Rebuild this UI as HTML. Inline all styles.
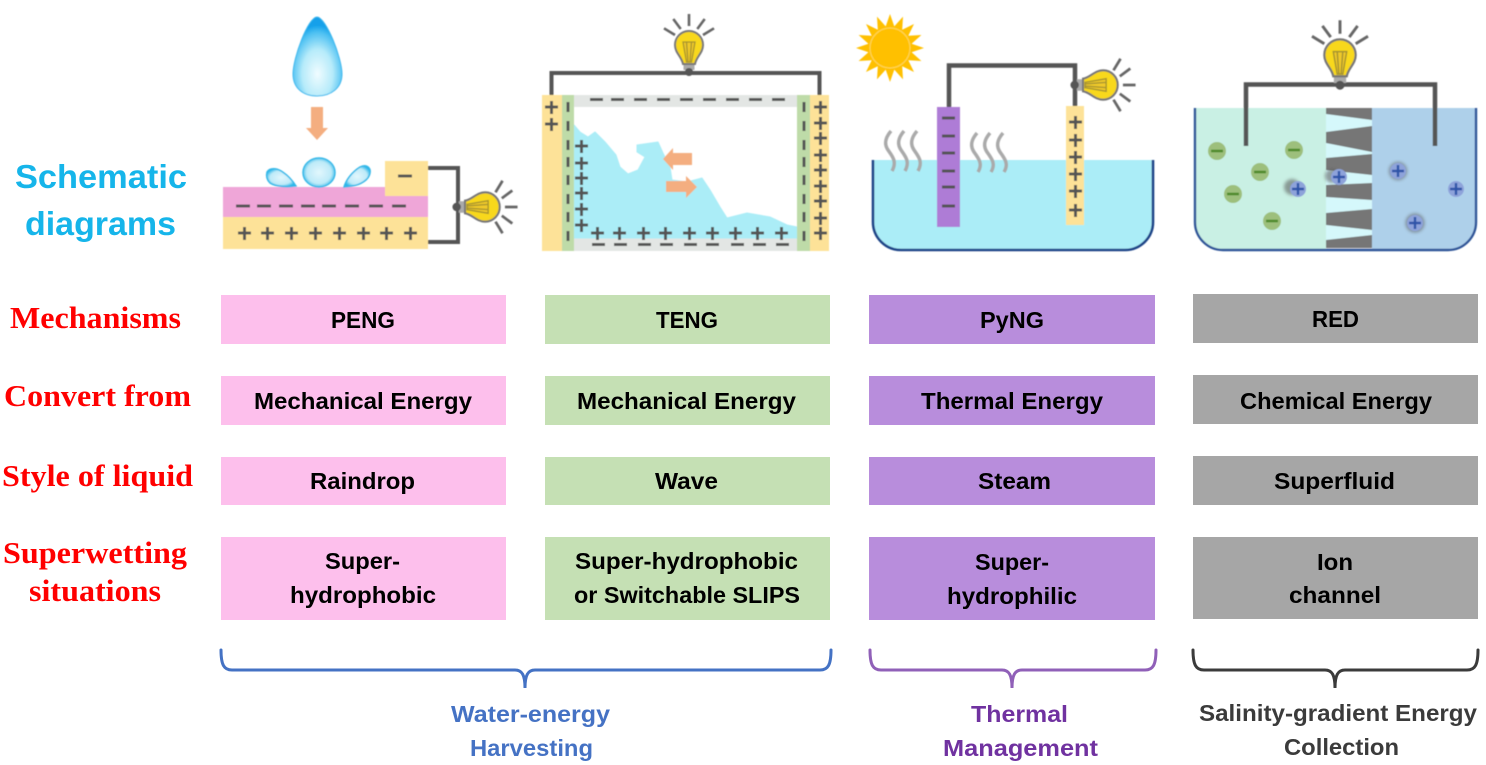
<!DOCTYPE html>
<html><head><meta charset="utf-8"><style>html,body{margin:0;padding:0;background:#fff}svg{display:block}
.b{font-family:"Liberation Sans",sans-serif;font-weight:700;font-size:23px;fill:#000;text-anchor:start}
.r{font-family:"Liberation Serif",serif;font-weight:700;font-size:31px;fill:#f00}
.l{font-family:"Liberation Sans",sans-serif;font-weight:700;font-size:23px}
.d{fill:none;stroke:#555;stroke-width:3}
</style></head><body>
<svg xmlns="http://www.w3.org/2000/svg" width="1486" height="765" viewBox="0 0 1486 765">
<defs>
<radialGradient id="dg" cx=".5" cy=".72" r=".62"><stop offset="0" stop-color="#f0fcff"/><stop offset=".5" stop-color="#b6ebfa"/><stop offset=".85" stop-color="#4cc0f2"/><stop offset="1" stop-color="#12a0ea"/></radialGradient>
<radialGradient id="dg2" cx=".5" cy=".5" r=".55"><stop offset="0" stop-color="#e2f7fd"/><stop offset=".7" stop-color="#bdeaf8"/><stop offset="1" stop-color="#2cb7ea"/></radialGradient>
<filter id="s" x="-5%" y="-5%" width="110%" height="110%"><feGaussianBlur stdDeviation=".45"/></filter>
<filter id="t" x="-2%" y="-5%" width="104%" height="110%"><feGaussianBlur stdDeviation=".3"/></filter>
<filter id="bl" x="-50%" y="-50%" width="200%" height="200%"><feGaussianBlur stdDeviation="1.6"/></filter>
<g id="bulb">
<path d="M0,-19V-31M-8.300,-16-15.700,-26M8.300,-16 15.700,-26M-14,-10-25,-16.700M14,-10 25,-16.700" fill="none" stroke="#666" stroke-width="2.600"/>
<rect x="-5.500" y="18" width="11" height="7" fill="#aaa"/>
<path d="M-6,19C-7,12-14,8-14,0A14,14 0 1 1 14,0C14,8 7,12 6,19Z" fill="#f8d81a" stroke="#777" stroke-width="2"/>
<path d="M-6,-3H6L2.500,17H-2.500ZM-2.500,-3-1,17M2.500,-3 1,17" fill="#efc92a" stroke="#a5932f" stroke-width="1.300"/>
<circle cy="27" r="4" fill="#555"/>
</g>
</defs>

<g filter="url(#s)">
<!-- Panel 1 -->
<path d="M317,17C326,17 342,58 342,74C342,88 331,96 317,96C303,96 293,88 293,74C293,58 308,17 317,17Z" fill="url(#dg)" stroke="#3fb8ee" stroke-width="1"/>
<path d="M311,107H323V128H328L317,140 306,128H311Z" fill="#f4ae80"/>
<rect x="223" y="187" width="205" height="31" fill="#efa6d8"/>
<rect x="223" y="217" width="205" height="32" fill="#fde298"/>
<rect x="385" y="161" width="43" height="35" fill="#fde298"/>
<ellipse cx="319" cy="172.500" rx="16" ry="14.500" fill="url(#dg2)" stroke="#35b8e8" stroke-width="1.500"/>
<path d="M267,172C270,167 278,168 284,173C290,177 294,183 296,186C288,187 276,187 270,183C267,180 266,176 267,172Z" fill="url(#dg2)" stroke="#35b8e8" stroke-width="1.500"/>
<path d="M344,187C346,180 352,172 360,167C366,164 371,167 370,173C369,180 360,185 352,186Z" fill="url(#dg2)" stroke="#35b8e8" stroke-width="1.500"/>
<path d="M428,168H458V242H428" fill="none" stroke="#555" stroke-width="4"/>
<use href="#bulb" transform="translate(485,207) rotate(90) scale(1.05)"/>
<path class="d" d="M398,176h14M236,206h14M257,206h14M279,206h14M301,206h14M322,206h14M345,206h14M369,206h14M392,206h14M238,233h13M244.500,227v13M261,233h13M267.500,227v13M285,233h13M291.500,227v13M309,233h13M315.500,227v13M333,233h13M339.500,227v13M357,233h13M363.500,227v13M380,233h13M386.500,227v13M404,233h13M410.500,227v13"/>

<!-- Panel 2 -->
<path d="M551.500,95V73H819.500V95" fill="none" stroke="#555" stroke-width="4"/>
<use href="#bulb" transform="translate(689,45)"/>
<rect x="542" y="95" width="20" height="156" fill="#fde298"/>
<rect x="810" y="95" width="19" height="156" fill="#fde298"/>
<rect x="574" y="95" width="223" height="12" fill="#e3e6e4"/>
<rect x="574" y="238" width="223" height="13" fill="#e3e6e4"/>
<path d="M574,125 580,132 588,137 595,132 605,142 616,155 620,167 628,174 638,170 645,157 637,152 637,145 658,142 663,153 670,167 672,180 687,182 702,178 710,190 720,207 727,218 747,213 770,217 787,225 797,227 797,238 574,238Z" fill="#abedf7" stroke="#abedf7" stroke-linejoin="round"/>
<rect x="562" y="95" width="12" height="156" fill="#bedba8"/>
<rect x="797" y="95" width="13" height="156" fill="#bedba8"/>
<path d="M663,159 673,148V153H692V165H673V170Z" fill="#f4ae80"/>
<path d="M666,181H686V176L697,187 686,198V192H666Z" fill="#f4ae80"/>
<path class="d" d="M590,99.500h13M611,99.500h13M634,99.500h13M657,99.500h13M680,99.500h13M703,99.500h13M726,99.500h13M749,99.500h13M772,99.500h13M592,244.500h13M614,244.500h13M638,244.500h13M660,244.500h13M684,244.500h13M706,244.500h13M731,244.500h13M753,244.500h13M776,244.500h13"/>
<path class="d" d="M568,102v10M568,121v10M568,140v10M568,157v10M568,175v10M568,194v10M568,212v10M568,231v10M804,102v10M804,121v10M804,140v10M804,157v10M804,175v10M804,194v10M804,212v10M804,231v10"/>
<path class="d" d="M545,107h13M551.500,101v13M545,124h13M551.500,118v13M814,107h13M820.500,101v13M814,123h13M820.500,117v13M814,138h13M820.500,132v13M814,155h13M820.500,149v13M814,170h13M820.500,164v13M814,186h13M820.500,180v13M814,201h13M820.500,195v13M814,218h13M820.500,212v13M814,233h13M820.500,227v13"/>
<path class="d" d="M575,146h13M581.500,140v13M575,163h13M581.500,157v13M575,178h13M581.500,172v13M575,193h13M581.500,187v13M575,209h13M581.500,203v13M575,225h13M581.500,219v13M591,233h13M597.500,227v13M613,233h13M619.500,227v13M637,233h13M643.500,227v13M659,233h13M665.500,227v13M683,233h13M689.500,227v13M706,233h13M712.500,227v13M729,233h13M735.500,227v13M751,233h13M757.500,227v13M775,233h13M781.500,227v13"/>

<!-- Panel 3 -->
<g transform="translate(890,48)">
<polygon points="34,0 21.600,4.300 31.400,13 18.300,12.200 24,24 12.200,18.300 13,31.400 4.300,21.600 0,34 -4.300,21.600 -13,31.400 -12.200,18.300 -24,24 -18.300,12.200 -31.400,13 -21.600,4.300 -34,0 -21.600,-4.300 -31.400,-13 -18.300,-12.200 -24,-24 -12.200,-18.300 -13,-31.400 -4.300,-21.600 0,-34 4.300,-21.600 13,-31.400 12.200,-18.300 24,-24 18.300,-12.200 31.400,-13 21.600,-4.300" fill="#ffc000"/>
<circle r="20" fill="#ffc000" stroke="#ffd75a" stroke-width="1"/>
</g>
<path d="M873,160V222A28,28 0 0 0 901,250H1125A28,28 0 0 0 1153,222V160" fill="#abedf7" stroke="#1f4488" stroke-width="2.600"/>
<path d="M949,107V65.500H1075V106" fill="none" stroke="#555" stroke-width="4.500"/>
<use href="#bulb" transform="translate(1103,85) rotate(90) scale(1.05)"/>
<rect x="937" y="107" width="23" height="120" fill="#ae7bd6"/>
<rect x="1066" y="106" width="18" height="119" fill="#fde298"/>
<path class="d" d="M942,118h13M942,136h13M942,153h13M942,171h13M942,187h13M942,206h13"/>
<path class="d" d="M1069,122h13M1075.500,116v13M1069,140h13M1075.500,134v13M1069,157h13M1075.500,151v13M1069,174h13M1075.500,168v13M1069,191h13M1075.500,185v13M1069,210h13M1075.500,204v13"/>
<g fill="none" stroke="#aaa" stroke-width="3.500">
<path d="M891,131C885,138 884,144 888,150C893,157 897,162 892,171"/>
<path d="M904,131C898,138 897,144 901,150C906,157 910,162 905,171"/>
<path d="M917,131C911,138 910,144 914,150C919,157 923,162 918,171"/>
<path d="M977,133C971,140 970,146 974,152C979,159 983,164 978,172"/>
<path d="M990,133C984,140 983,146 987,152C992,159 996,164 991,172"/>
<path d="M1003,133C997,140 996,146 1000,152C1005,159 1009,164 1004,172"/>
</g>

<!-- Panel 4 -->
<path d="M1195,108V222A28,28 0 0 0 1223,250H1326V108Z" fill="#c9f0e4"/>
<path d="M1372,108H1476V222A28,28 0 0 1 1448,250H1372Z" fill="#aed0ea"/>
<rect x="1326" y="108" width="46" height="140" fill="#767676"/>
<path d="M1326,114 1372,120V126L1326,132ZM1326,143 1372,152V154L1326,158ZM1326,170 1372,175V183L1326,185ZM1326,197 1372,200V209L1326,213ZM1326,225 1372,230V235L1326,240Z" fill="#d5f8fb"/>
<path d="M1195,108V222A28,28 0 0 0 1223,250H1448A28,28 0 0 0 1476,222V108" fill="none" stroke="#2f5598" stroke-width="2.400"/>
<path d="M1246,146V84.500H1435V146" fill="none" stroke="#555" stroke-width="4.500"/>
<use href="#bulb" transform="translate(1340,55) scale(1.12)"/>
<g fill="#9dbf7c"><circle cx="1217" cy="151" r="9"/><circle cx="1294" cy="150" r="9"/><circle cx="1260" cy="172" r="9"/><circle cx="1233" cy="194" r="9"/><circle cx="1272" cy="221" r="9"/></g>
<path d="M1211,151h12M1288,150h12M1254,172h12M1227,194h12M1266,221h12" stroke="#4e8a2a" stroke-width="2.600" fill="none"/>
<g fill="#555" opacity=".55" filter="url(#bl)"><circle cx="1292" cy="187" r="8"/><circle cx="1332" cy="176" r="7"/><circle cx="1398" cy="171" r="9"/><circle cx="1415" cy="223" r="9.500"/></g>
<g fill="#8ea3da"><circle cx="1298" cy="189" r="8"/><circle cx="1339" cy="177" r="8"/><circle cx="1398" cy="171" r="8"/><circle cx="1456" cy="189" r="8"/><circle cx="1415" cy="223" r="8"/></g>
<path d="M1292,189h12M1298,183v12M1333,177h12M1339,171v12M1392,171h12M1398,165v12M1450,189h12M1456,183v12M1409,223h12M1415,217v12" stroke="#2f55a8" stroke-width="2.400" fill="none"/>
</g>

<!-- Boxes -->
<g fill="#fdbfec"><rect x="221" y="295" width="285" height="49"/><rect x="221" y="376" width="285" height="49"/><rect x="221" y="457" width="285" height="48"/><rect x="221" y="537" width="285" height="83"/></g>
<g fill="#c5e0b4"><rect x="545" y="295" width="285" height="49"/><rect x="545" y="376" width="285" height="49"/><rect x="545" y="457" width="285" height="48"/><rect x="545" y="537" width="285" height="83"/></g>
<g fill="#b88ddc"><rect x="869" y="295" width="286" height="49"/><rect x="869" y="376" width="286" height="49"/><rect x="869" y="457" width="286" height="48"/><rect x="869" y="537" width="286" height="83"/></g>
<g fill="#a6a6a6"><rect x="1193" y="294" width="285" height="49"/><rect x="1193" y="375" width="285" height="49"/><rect x="1193" y="456" width="285" height="49"/><rect x="1193" y="537" width="285" height="82"/></g>

<g filter="url(#t)">
<text class="b" x="331" y="328" textLength="64" lengthAdjust="spacingAndGlyphs">PENG</text>
<text class="b" x="254" y="409" textLength="218" lengthAdjust="spacingAndGlyphs">Mechanical Energy</text>
<text class="b" x="310" y="489" textLength="105" lengthAdjust="spacingAndGlyphs">Raindrop</text>
<text class="b" x="325" y="569" textLength="75" lengthAdjust="spacingAndGlyphs">Super-</text>
<text class="b" x="290" y="603" textLength="146" lengthAdjust="spacingAndGlyphs">hydrophobic</text>

<text class="b" x="656" y="328" textLength="62" lengthAdjust="spacingAndGlyphs">TENG</text>
<text class="b" x="577" y="409" textLength="219" lengthAdjust="spacingAndGlyphs">Mechanical Energy</text>
<text class="b" x="655" y="489" textLength="63" lengthAdjust="spacingAndGlyphs">Wave</text>
<text class="b" x="575" y="569" textLength="223" lengthAdjust="spacingAndGlyphs">Super-hydrophobic</text>
<text class="b" x="574" y="603" textLength="226" lengthAdjust="spacingAndGlyphs">or Switchable SLIPS</text>

<text class="b" x="980" y="328" textLength="64" lengthAdjust="spacingAndGlyphs">PyNG</text>
<text class="b" x="921" y="409" textLength="182" lengthAdjust="spacingAndGlyphs">Thermal Energy</text>
<text class="b" x="978" y="489" textLength="73" lengthAdjust="spacingAndGlyphs">Steam</text>
<text class="b" x="975" y="570" textLength="74" lengthAdjust="spacingAndGlyphs">Super-</text>
<text class="b" x="947" y="604" textLength="130" lengthAdjust="spacingAndGlyphs">hydrophilic</text>

<text class="b" x="1312" y="327" textLength="47" lengthAdjust="spacingAndGlyphs">RED</text>
<text class="b" x="1240" y="409" textLength="192" lengthAdjust="spacingAndGlyphs">Chemical Energy</text>
<text class="b" x="1274" y="489" textLength="121" lengthAdjust="spacingAndGlyphs">Superfluid</text>
<text class="b" x="1317" y="570" textLength="36" lengthAdjust="spacingAndGlyphs">Ion</text>
<text class="b" x="1289" y="603" textLength="92" lengthAdjust="spacingAndGlyphs">channel</text>

<text class="r" x="10" y="328" textLength="171" lengthAdjust="spacingAndGlyphs">Mechanisms</text>
<text class="r" x="4" y="406" textLength="187" lengthAdjust="spacingAndGlyphs">Convert from</text>
<text class="r" x="2" y="486" textLength="191" lengthAdjust="spacingAndGlyphs">Style of liquid</text>
<text class="r" x="3" y="563" textLength="184" lengthAdjust="spacingAndGlyphs">Superwetting</text>
<text class="r" x="29" y="601" textLength="132" lengthAdjust="spacingAndGlyphs">situations</text>

<text x="15" y="188" font-family="'Liberation Sans',sans-serif" font-weight="700" font-size="33" fill="#12b5ea" textLength="172" lengthAdjust="spacingAndGlyphs">Schematic</text>
<text x="25" y="235" font-family="'Liberation Sans',sans-serif" font-weight="700" font-size="33" fill="#12b5ea" textLength="151" lengthAdjust="spacingAndGlyphs">diagrams</text>

<text class="l" fill="#4472c4" x="451" y="722" textLength="159" lengthAdjust="spacingAndGlyphs">Water-energy</text>
<text class="l" fill="#4472c4" x="470" y="756" textLength="123" lengthAdjust="spacingAndGlyphs">Harvesting</text>
<text class="l" fill="#7030a0" x="971" y="722" textLength="97" lengthAdjust="spacingAndGlyphs">Thermal</text>
<text class="l" fill="#7030a0" x="943" y="756" textLength="155" lengthAdjust="spacingAndGlyphs">Management</text>
<text class="l" fill="#3b3b3b" x="1199" y="721" textLength="278" lengthAdjust="spacingAndGlyphs">Salinity-gradient Energy</text>
<text class="l" fill="#3b3b3b" x="1284" y="755" textLength="115" lengthAdjust="spacingAndGlyphs">Collection</text>
</g>

<!-- Braces -->
<g fill="none" stroke-width="3" stroke-linecap="round">
<path stroke="#4472c4" d="M221,650C221,665 224,670 232,670H515C522,670 525,675 525,688C525,675 528,670 535,670H820C828,670 831,665 831,650"/>
<path stroke="#9060b8" d="M870,650C870,665 873,670 881,670H1002C1009,670 1012,675 1012,688C1012,675 1015,670 1022,670H1145C1153,670 1156,665 1156,650"/>
<path stroke="#3b3b3b" d="M1193,650C1193,665 1196,670 1204,670H1325C1332,670 1335,675 1335,688C1335,675 1338,670 1345,670H1467C1475,670 1478,665 1478,650"/>
</g>
</svg>
</body></html>
